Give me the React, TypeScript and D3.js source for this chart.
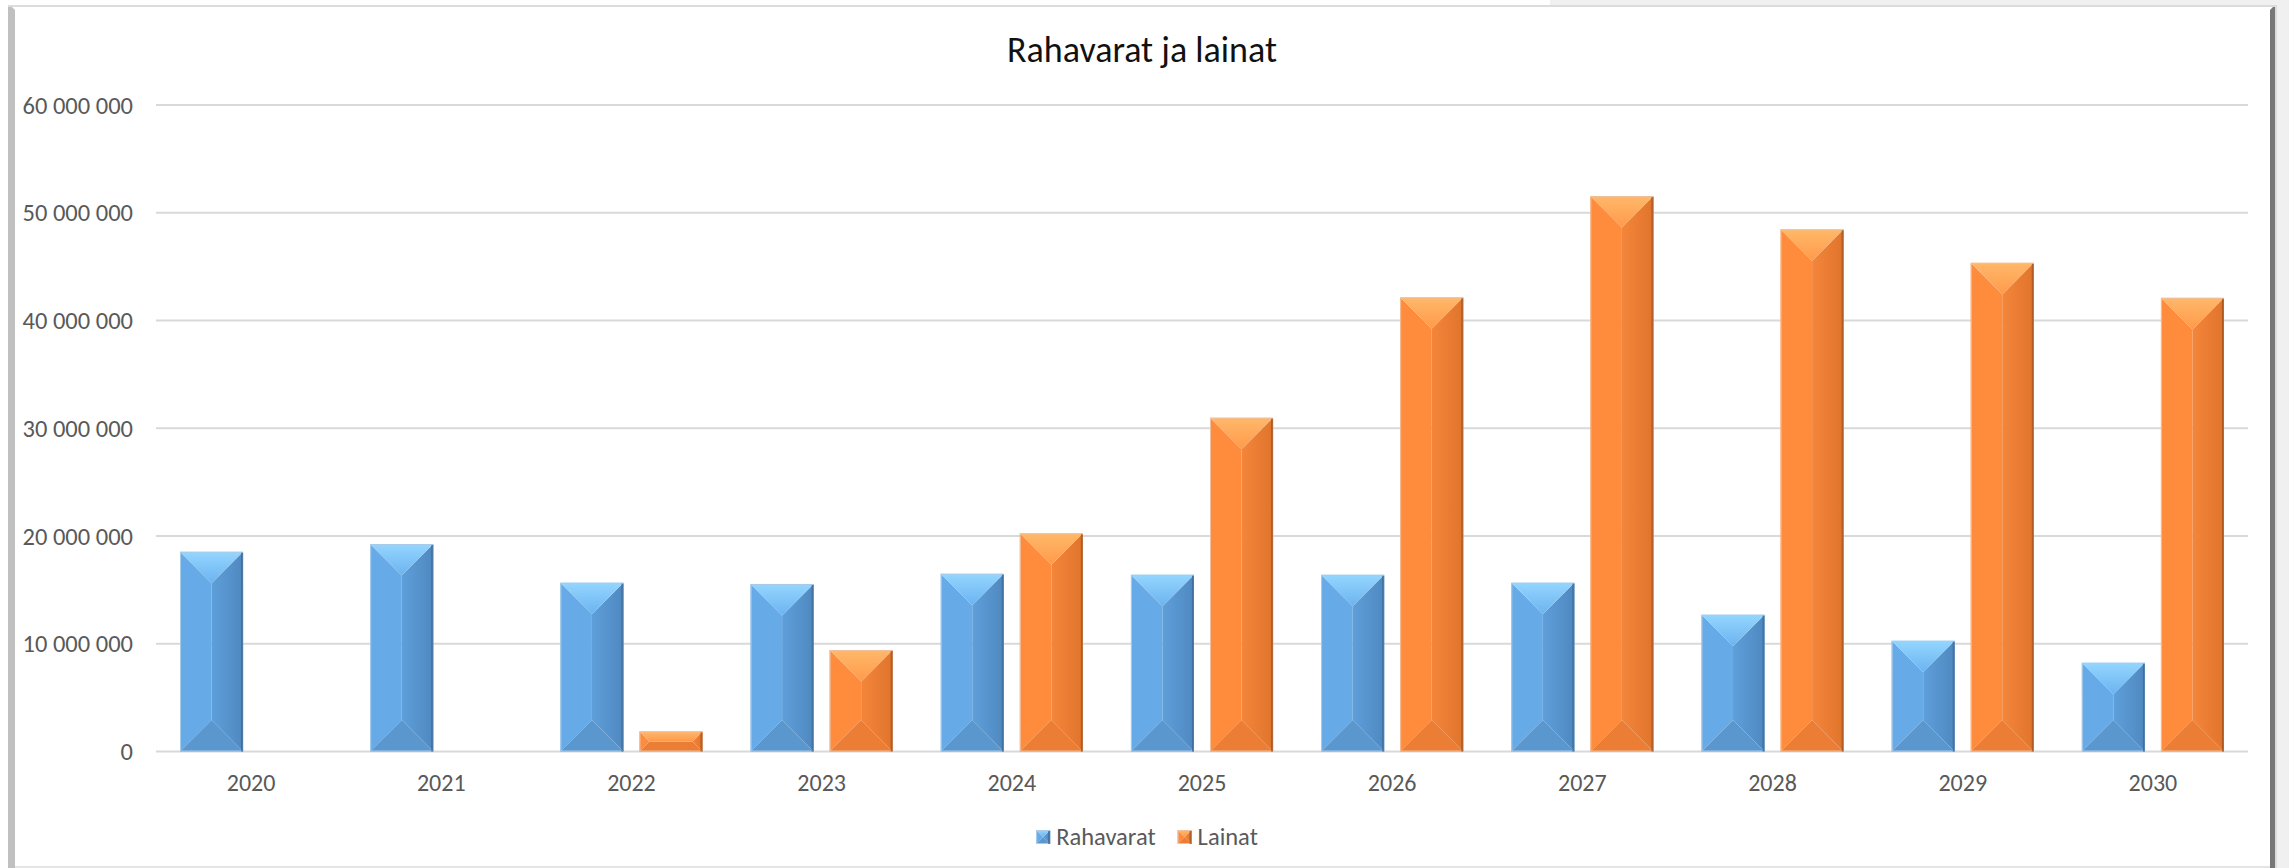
import React, { useEffect, useRef } from 'react';
import * as d3 from 'd3';

// Chart data
const years = ['2020', '2021', '2022', '2023', '2024', '2025', '2026', '2027', '2028', '2029', '2030'];
const rahavarat = [18.54e6, 19.26e6, 15.67e6, 15.55e6, 16.5e6, 16.41e6, 16.4e6, 15.67e6, 12.7e6, 10.28e6, 8.24e6];
const lainat = [0, 0, 1.87e6, 9.42e6, 20.25e6, 30.98e6, 42.15e6, 51.55e6, 48.46e6, 45.35e6, 42.1e6];
const seriesNames = ['Rahavarat', 'Lainat'];
const yTicks = [0, 10e6, 20e6, 30e6, 40e6, 50e6, 60e6];

const WIDTH = 2289;
const HEIGHT = 868;
const FONT = 'Carlito, Calibri, Lato, sans-serif';

// colours for each bevel facet
const palette: Record<string, { left: string; right0: string; right1: string; top0: string; top1: string; bottom: string; edge: string; outline: string }> = {
    Rahavarat: {
        left: '#66aae7', right0: '#5e9fda', right1: '#4f88c0', top0: '#94d6ff', top1: '#6cb3f0',
        bottom: '#5b97cf', edge: '#3b6896', outline: '#a9cbe9'
    },
    Lainat: {
        left: '#ff8b3c', right0: '#f4863b', right1: '#e0742b', top0: '#ffb86a', top1: '#ff9a4a',
        bottom: '#eb7e34', edge: '#a2521f', outline: '#f0c09c'
    }
};

const App: React.FC = () => {
    const svgRef = useRef<SVGSVGElement>(null);

    useEffect(() => {
        if (!svgRef.current) return;
        const svg = d3.select(svgRef.current);
        svg.selectAll('*').remove();

        const locale = d3.formatLocale({ thousands: ' ', grouping: [3], decimal: ',', currency: ['', ''] });
        const fmt = locale.format(',');

        // page and frame
        svg.append('rect').attr('width', WIDTH).attr('height', HEIGHT).attr('fill', '#ffffff');
        svg.append('rect').attr('x', 1550).attr('y', 0).attr('width', WIDTH - 1550).attr('height', 5).attr('fill', '#f0f0f0');
        svg.append('rect').attr('x', 2275).attr('y', 0).attr('width', 14).attr('height', HEIGHT).attr('fill', '#f0f0f0');
        svg.append('rect').attr('x', 8).attr('y', 5).attr('width', 2267).attr('height', 2).attr('fill', '#dcdcdc');
        svg.append('polygon').attr('points', '8,7 12,7 15,10 15,868 8,868').attr('fill', '#c0c0c0');
        svg.append('polygon').attr('points', '2270,10 2273,7 2275,7 2275,868 2270,868').attr('fill', '#777777');
        svg.append('rect').attr('x', 2275).attr('y', 5).attr('width', 2).attr('height', HEIGHT).attr('fill', '#dcdcdc');
        svg.append('rect').attr('x', 15).attr('y', 866).attr('width', 2255).attr('height', 2).attr('fill', '#e4e4e4');

        const defs = svg.append('defs');
        seriesNames.forEach((s) => {
            const c = palette[s];
            const gr = defs.append('linearGradient').attr('id', `right-${s}`).attr('x1', 0).attr('x2', 1).attr('y1', 0).attr('y2', 0);
            gr.append('stop').attr('offset', '0%').attr('stop-color', c.right0);
            gr.append('stop').attr('offset', '100%').attr('stop-color', c.right1);
            const gt = defs.append('linearGradient').attr('id', `top-${s}`).attr('x1', 0).attr('x2', 0).attr('y1', 0).attr('y2', 1);
            gt.append('stop').attr('offset', '0%').attr('stop-color', c.top0);
            gt.append('stop').attr('offset', '100%').attr('stop-color', c.top1);
        });

        // scales
        const x = d3.scaleBand<string>().domain(years).range([156, 2248]).padding(0);
        const xSub = d3.scaleBand<string>().domain(seriesNames).range([0, x.bandwidth()])
            .paddingInner(0.2025).paddingOuter(0.3038);
        const y = d3.scaleLinear().domain([0, 60e6]).range([751.5, 105]);

        // gridlines
        svg.append('g').selectAll('line').data(yTicks).enter().append('line')
            .attr('x1', 156).attr('x2', 2248)
            .attr('y1', (d) => y(d)).attr('y2', (d) => y(d))
            .attr('stroke', '#d9d9d9').attr('stroke-width', 2);

        // y tick labels
        svg.append('g').selectAll('text').data(yTicks).enter().append('text')
            .attr('x', 133).attr('y', (d) => y(d)).attr('dy', '0.35em')
            .attr('text-anchor', 'end').attr('font-family', FONT).attr('font-size', 24.5)
            .attr('fill', '#595959').text((d) => fmt(d));

        // x labels
        svg.append('g').selectAll('text').data(years).enter().append('text')
            .attr('x', (d) => (x(d) as number) + x.bandwidth() / 2).attr('y', 783).attr('dy', '0.35em')
            .attr('text-anchor', 'middle').attr('font-family', FONT).attr('font-size', 24)
            .attr('fill', '#595959').text((d) => d);

        // bevelled box, like Excel's "angle" bevel
        const drawBevel = (parent: d3.Selection<SVGGElement, unknown, null, undefined>, s: string, x0: number, x1: number, top: number, bot: number) => {
            const c = palette[s];
            const w = x1 - x0;
            const h = bot - top;
            if (h <= 0) return;
            const b = Math.min(w / 2, h / 2);
            const g = parent.append('g');
            const pts = (p: number[][]) => p.map((q) => q.join(',')).join(' ');
            g.append('rect').attr('x', x0 + b).attr('y', top + b).attr('width', Math.max(0, w - 2 * b))
                .attr('height', Math.max(0, h - 2 * b)).attr('fill', c.left);
            g.append('polygon').attr('points', pts([[x0, top], [x0 + b, top + b], [x0 + b, bot - b], [x0, bot]])).attr('fill', c.left);
            g.append('polygon').attr('points', pts([[x1, top], [x1 - b, top + b], [x1 - b, bot - b], [x1, bot]])).attr('fill', `url(#right-${s})`);
            g.append('polygon').attr('points', pts([[x0, bot], [x1, bot], [x1 - b, bot - b], [x0 + b, bot - b]])).attr('fill', c.bottom);
            g.append('polygon').attr('points', pts([[x0, top], [x1, top], [x1 - b, top + b], [x0 + b, top + b]])).attr('fill', `url(#top-${s})`);
            g.append('rect').attr('x', x0 + 0.5).attr('y', top + 0.5).attr('width', w - 1).attr('height', h - 1)
                .attr('fill', 'none').attr('stroke', c.outline).attr('stroke-width', 1);
            g.append('rect').attr('x', x1 - 2).attr('y', top + 1).attr('width', 2).attr('height', h - 1).attr('fill', c.edge).attr('opacity', 0.8);
        };

        const bars = svg.append('g');
        years.forEach((yr, i) => {
            const vals = [rahavarat[i], lainat[i]];
            seriesNames.forEach((s, j) => {
                const x0 = (x(yr) as number) + (xSub(s) as number);
                drawBevel(bars, s, x0, x0 + xSub.bandwidth(), y(vals[j]), y(0));
            });
        });

        // title
        svg.append('text').attr('x', 1142).attr('y', 49).attr('dy', '0.35em')
            .attr('text-anchor', 'middle').attr('font-family', FONT).attr('font-size', 36)
            .attr('fill', '#111111').text('Rahavarat ja lainat');

        // legend, centred under the chart
        const legend = svg.append('g');
        const items = seriesNames.map((s) => {
            const t = legend.append('text').attr('y', 836).attr('dy', '0.35em')
                .attr('font-family', FONT).attr('font-size', 24.5).attr('fill', '#595959').text(s);
            const len = (t.node() as SVGTextElement).getComputedTextLength();
            return { s, t, len };
        });
        const sq = 14;
        const textGap = 6;
        const itemGap = 22;
        const total = items.reduce((acc, it) => acc + sq + textGap + it.len, 0) + itemGap * (items.length - 1);
        let cx = 1147 - total / 2;
        items.forEach((it) => {
            drawBevel(legend, it.s, cx, cx + sq, 830, 830 + sq);
            it.t.attr('x', cx + sq + textGap);
            cx += sq + textGap + it.len + itemGap;
        });
    }, []);

    return (
        <svg ref={svgRef} width={WIDTH} height={HEIGHT}
            style={{ position: 'absolute', left: 0, top: 0, display: 'block' }} />
    );
};

export default App;
